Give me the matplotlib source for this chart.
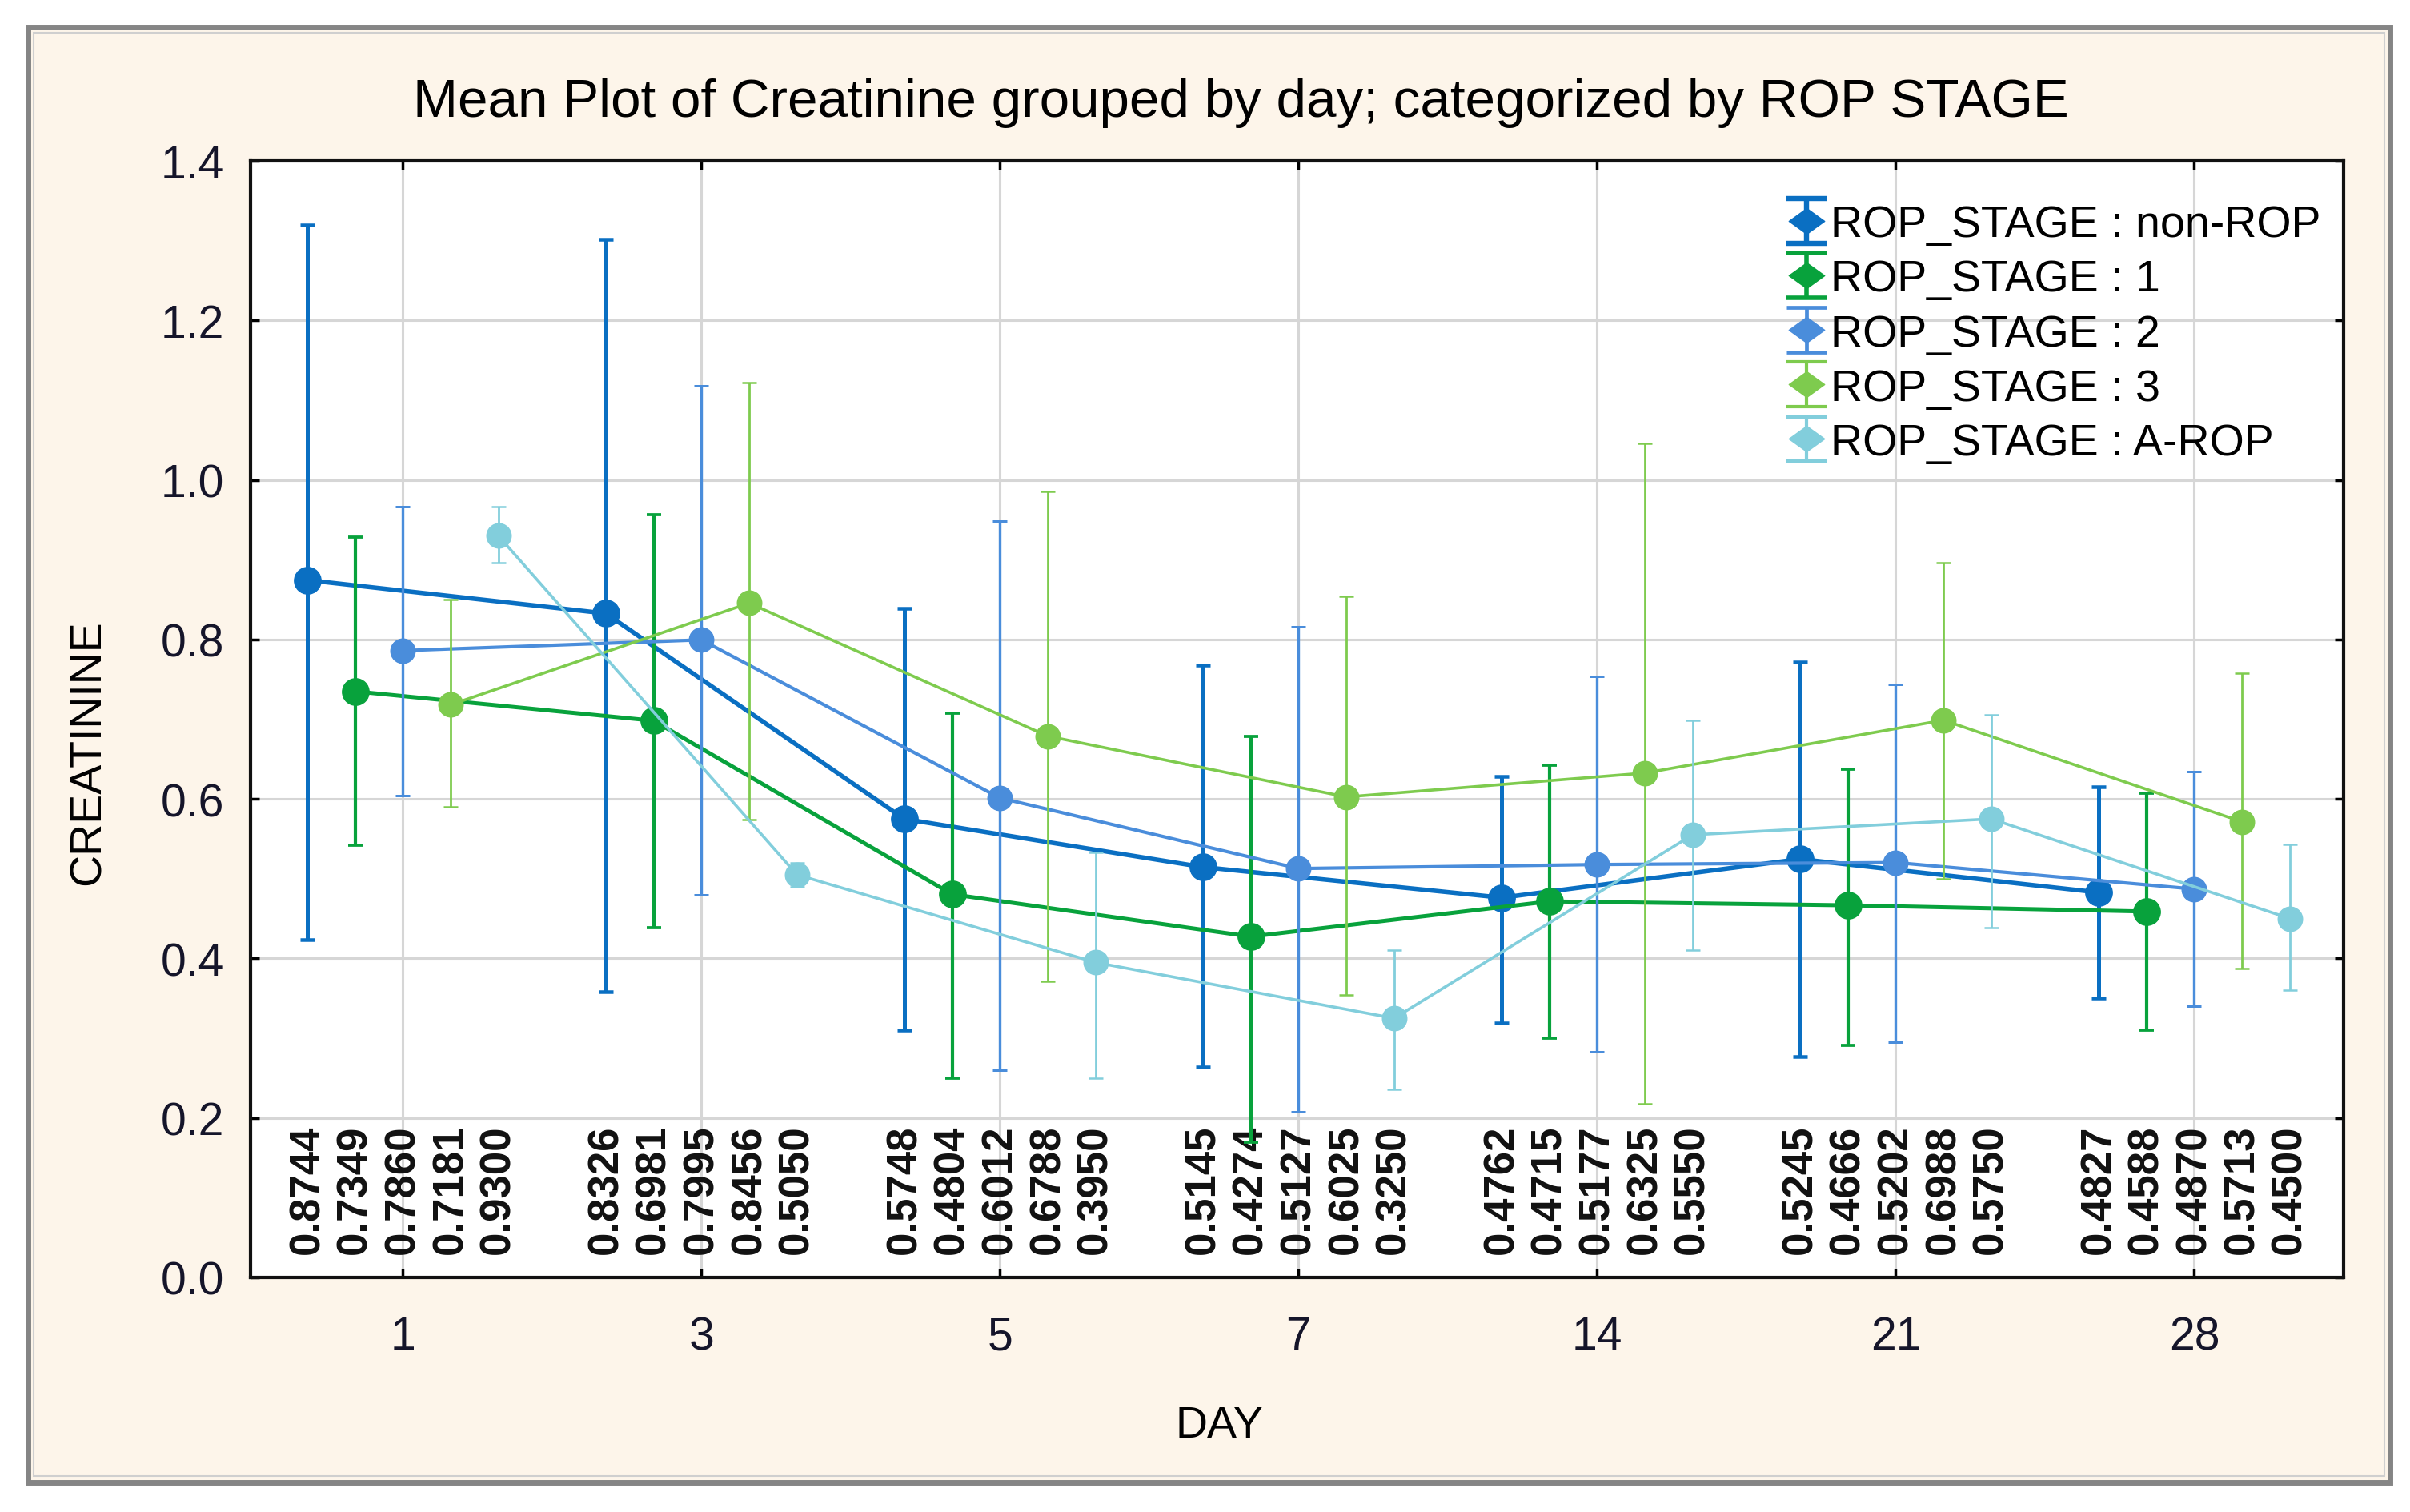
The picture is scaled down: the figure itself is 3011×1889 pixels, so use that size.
import numpy as np
import matplotlib
matplotlib.use("Agg")
import matplotlib.pyplot as plt
from matplotlib.patches import Rectangle
from matplotlib.path import Path

# ---------------- data ----------------
days = ["1", "3", "5", "7", "14", "21", "28"]
stage_names = ["ROP_STAGE : non-ROP", "ROP_STAGE : 1", "ROP_STAGE : 2",
               "ROP_STAGE : 3", "ROP_STAGE : A-ROP"]

mean_nonrop = [0.8744, 0.8326, 0.5748, 0.5145, 0.4762, 0.5245, 0.4827]
mean_s1     = [0.7349, 0.6981, 0.4804, 0.4274, 0.4715, 0.4666, 0.4588]
mean_s2     = [0.7860, 0.7995, 0.6012, 0.5127, 0.5177, 0.5202, 0.4870]
mean_s3     = [0.7181, 0.8456, 0.6788, 0.6025, 0.6325, 0.6988, 0.5713]
mean_arop   = [0.9300, 0.5050, 0.3950, 0.3250, 0.5550, 0.5750, 0.4500]

upper_nonrop = [1.320, 1.302, 0.839, 0.768, 0.628, 0.772, 0.615]
lower_nonrop = [0.424, 0.358, 0.310, 0.264, 0.319, 0.277, 0.350]
upper_s1     = [0.928, 0.956, 0.708, 0.678, 0.642, 0.637, 0.607]
lower_s1     = [0.542, 0.439, 0.250, 0.170, 0.300, 0.291, 0.310]
upper_s2     = [0.966, 1.118, 0.948, 0.816, 0.754, 0.744, 0.634]
lower_s2     = [0.604, 0.480, 0.260, 0.208, 0.283, 0.295, 0.340]
upper_s3     = [0.850, 1.122, 0.986, 0.854, 1.046, 0.896, 0.758]
lower_s3     = [0.590, 0.574, 0.371, 0.354, 0.218, 0.500, 0.387]
upper_arop   = [0.966, 0.520, 0.533, 0.410, 0.698, 0.706, 0.543]
lower_arop   = [0.896, 0.490, 0.250, 0.236, 0.410, 0.439, 0.360]

means  = [mean_nonrop, mean_s1, mean_s2, mean_s3, mean_arop]
uppers = [upper_nonrop, upper_s1, upper_s2, upper_s3, upper_arop]
lowers = [lower_nonrop, lower_s1, lower_s2, lower_s3, lower_arop]

# ---------------- style ----------------
colors  = ["#0A6FC2", "#08A23C", "#4A8DDB", "#7ECB4E", "#82CEDC"]
offsets = [-0.32, -0.16, 0.0, 0.16, 0.32]
lws     = [4.0, 3.6, 3.0, 2.6, 2.6]
elws    = [3.6, 3.0, 2.4, 2.0, 2.0]
msizes  = [24, 24, 22, 22, 22]

FONT = "Liberation Sans"
plt.rcParams["font.family"] = [FONT, "DejaVu Sans"]

fig = plt.figure(figsize=(30.11, 18.9), dpi=100)
fig.patch.set_facecolor("white")

# outer cream frame
W, H = 3011.0, 1890.0
frame = Rectangle((35 / W, 1 - 1853 / H), (2986 - 35) / W, (1853 - 35) / H,
                  transform=fig.transFigure, facecolor="#FDF5EA",
                  edgecolor="#858585", linewidth=5, zorder=-2)
fig.patches.append(frame)
inner = Rectangle((42 / W, 1 - 1845 / H), (2979 - 42) / W, (1845 - 42) / H,
                  transform=fig.transFigure, facecolor="none",
                  edgecolor="#CFCFCF", linewidth=1.5, zorder=-1)
fig.patches.append(inner)

ax = fig.add_axes([313 / W, 1 - 1597 / H, (2928 - 313) / W, (1597 - 202) / H])
ax.set_zorder(2)
ax.set_facecolor("white")

x = np.arange(1, len(days) + 1)

for i in range(5):
    xs = x + offsets[i]
    m = np.array(means[i])
    lo = m - np.array(lowers[i])
    hi = np.array(uppers[i]) - m
    ax.errorbar(xs, m, yerr=[lo, hi], color=colors[i], linewidth=lws[i],
                elinewidth=elws[i], capsize=6.5, capthick=elws[i] * 0.9,
                marker="o", markersize=msizes[i], markeredgecolor=colors[i],
                zorder=3 + i)
    for xi, v in zip(xs, means[i]):
        ax.text(xi, 0.192, f"{v:.4f}", rotation=90, ha="center", va="top",
                fontsize=38, fontweight="bold", color="#111111", zorder=2)

# legend proxies (vertical error bar with wide diamond)
diamond = Path([(-1, 0), (0, 0.72), (1, 0), (0, -0.72), (-1, 0)],
               [Path.MOVETO, Path.LINETO, Path.LINETO, Path.LINETO, Path.CLOSEPOLY])
handles = []
for i in range(5):
    h = ax.errorbar([np.nan], [np.nan], yerr=[[0.0], [0.0]], color=colors[i],
                    linestyle="none", marker=diamond, markersize=32,
                    markeredgecolor=colors[i],
                    elinewidth=elws[i] + 1.0, capsize=18, capthick=elws[i] + 1.0)
    handles.append(h)
leg = ax.legend(handles, stage_names, loc="upper left",
                bbox_to_anchor=(0.725, 0.977), frameon=False, fontsize=40,
                handlelength=0.95, handletextpad=0.05, labelspacing=0.29,
                borderaxespad=0, numpoints=1)
for t in leg.get_texts():
    t.set_color("black")

ax.set_xlim(0.49, 7.5)
ax.set_ylim(0.0, 1.4)
ax.set_xticks(x)
ax.set_xticklabels(days)
ax.set_yticks(np.arange(0, 1.41, 0.2))
ax.set_yticklabels([f"{v:.1f}" for v in np.arange(0, 1.41, 0.2)])

ax.grid(True, color="#D6D6D6", linewidth=2.2, zorder=0)
ax.set_axisbelow(True)
ax.tick_params(axis="both", direction="in", length=8, width=2.5,
               top=True, right=True, labelsize=41, colors="black")
ax.tick_params(axis="x", pad=34)
ax.tick_params(axis="y", pad=24)
for lab in ax.get_xticklabels() + ax.get_yticklabels():
    lab.set_color("#15152a")
for sp in ax.spines.values():
    sp.set_linewidth(3)
    sp.set_color("#111111")

fig.text(0.515, 1 - 129 / H, "Mean Plot of Creatinine grouped by day; categorized by ROP STAGE",
         ha="center", va="center", fontsize=48.5, color="black")
fig.text(1523 / W, 1 - 1782 / H, "DAY", ha="center", va="center",
         fontsize=40, color="black")
fig.text(111 / W, 1 - 940 / H, "CREATININE", ha="center", va="center",
         rotation=90, fontsize=40, color="black")

fig.savefig("out.png", dpi=100)
